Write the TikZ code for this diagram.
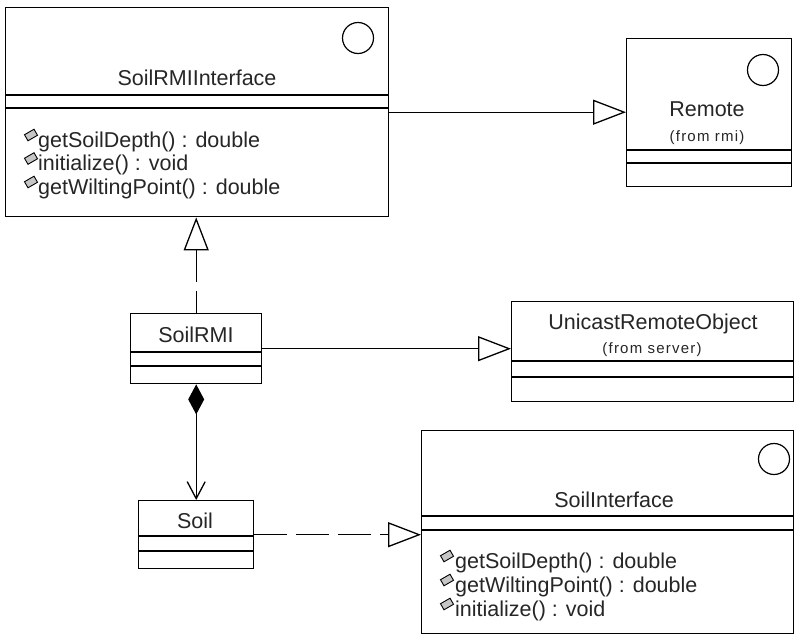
\documentclass[tikz,border=0pt]{standalone}
\usepackage{fontspec}
\usepackage{tikz}
\usetikzlibrary{arrows.meta,positioning,calc,shapes.geometric}
\newfontfamily\umlfont{Liberation Sans}
\newfontfamily\umlfromfont[LetterSpace=8]{Liberation Sans}
\tikzset{
  % class box, sized by hand; compartments are drawn as lines afterwards
  uml/class/.style={
    draw=black, fill=white, line width=1.4pt, rectangle,
    inner sep=0pt, anchor=north west
  },
  uml/name/.style={
    font=\umlfont\fontsize{21.5}{24}\selectfont, inner sep=0pt,
    text height=16pt, text depth=4pt, text=black!85
  },
  uml/from/.style={font=\umlfromfont\fontsize{15}{17}\selectfont, inner sep=0pt, text=black!85},
  uml/op/.style={uml/name, anchor=west},
  % operation marker in front of each method
  uml/icon/.style={
    draw=black, fill=gray!45, rectangle, rotate=30, line width=0.9pt,
    minimum width=11pt, minimum height=7pt, inner sep=0pt
  },
  % interface marker
  uml/lolly/.style={draw=black, circle, minimum size=31pt, inner sep=0pt, line width=1.2pt},
  uml/sep/.style={line width=1.4pt},
  % connectors
  uml/inherit/.style={-{Triangle[open,length=33pt,width=25pt]}, line width=1.3pt},
  uml/realize/.style={uml/inherit, dash pattern=on 33pt off 9pt},
  uml/compose/.style={
    {Diamond[length=30pt,width=16pt]}-{Straight Barb[length=17pt,width=18pt]},
    line width=1.3pt
  },
}

\begin{document}
\begin{tikzpicture}[x=1pt,y=1pt]
  \useasboundingbox (0,0) rectangle (795,-638);
  % classes
  \node[uml/class, minimum width=383, minimum height=209] (rmiif)   at (5,-7)    {};
  \node[uml/class, minimum width=165, minimum height=148] (remote)  at (626,-38) {};
  \node[uml/class, minimum width=131, minimum height=70]  (soilrmi) at (130,-313) {};
  \node[uml/class, minimum width=282, minimum height=100] (unicast) at (511,-301) {};
  \node[uml/class, minimum width=115, minimum height=68]  (soil)    at (138,-500) {};
  \node[uml/class, minimum width=372, minimum height=203] (soilif)  at (421,-430) {};
  \foreach \c/\d in {rmiif/88, rmiif/101, remote/112, remote/125, soilrmi/39, soilrmi/53,
                     unicast/60, unicast/76, soil/36, soil/51, soilif/86, soilif/100}
    \draw[uml/sep] ($(\c.north west)+(0,-\d)$) -- ($(\c.north east)+(0,-\d)$);
  \node[uml/lolly] (rmiiflolly)  at (358,-38)  {};
  \node[uml/lolly] (remotelolly) at (763,-70)  {};
  \node[uml/lolly] (soiliflolly) at (774,-459) {};
  % names
  \node[uml/name] (rmiifname)   at (197,-79)  {SoilRMIInterface};
  \node[uml/name] (remotename)  at (707,-110) {Remote};
  \node[uml/from] (remotefrom)  at (707,-138) {(from rmi)};
  \node[uml/name] (soilrminame) at (196,-336) {SoilRMI};
  \node[uml/name] (unicastname) at (653,-323) {UnicastRemoteObject};
  \node[uml/from] (unicastfrom) at (652,-350) {(from server)};
  \node[uml/name] (soilname)    at (195,-522) {Soil};
  \node[uml/name] (soilifname)  at (614,-501) {SoilInterface};
  % operations
  \foreach \t [count=\i] in {getSoilDepth() : double, initialize() : void, getWiltingPoint() : double}{
    \node[uml/icon] (rmiificon\i) at (31,{-111.5-23.5*\i}) {};
    \node[uml/op]   (rmiifop\i)   at (38,{-117.5-23.5*\i}) {\t};
  }
  \foreach \t [count=\i] in {getSoilDepth() : double, getWiltingPoint() : double, initialize() : void}{
    \node[uml/icon] (soilificon\i) at (447,{-532-24*\i}) {};
    \node[uml/op]   (soilifop\i)   at (455,{-538-24*\i}) {\t};
  }
  % relations
  \draw[uml/inherit] (rmiif.east) -- (rmiif.east -| remote.west);
  \draw[uml/realize, dash phase=11pt] (soilrmi.north) -- (soilrmi.north |- rmiif.south);
  \draw[uml/inherit] (soilrmi.east) -- (soilrmi.east -| unicast.west);
  \draw[uml/compose] (soilrmi.south) -- (soilrmi.south |- soil.north);
  \draw[uml/realize] (soil.east) -- (soil.east -| soilif.west);
\end{tikzpicture}
\end{document}
